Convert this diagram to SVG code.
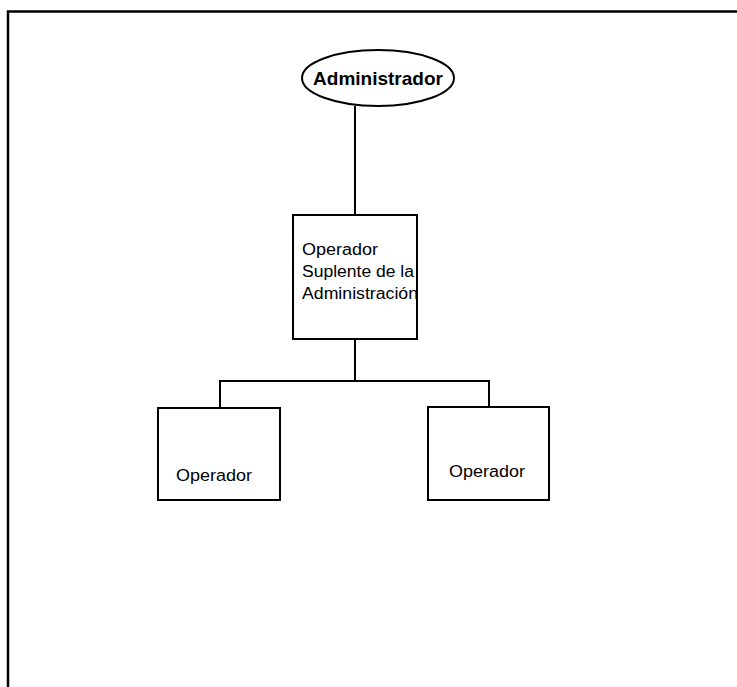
<svg xmlns="http://www.w3.org/2000/svg" width="737" height="687" viewBox="0 0 737 687">
  <style>
    .frame { fill: none; stroke: #000; stroke-width: 2.5; }
    .node { fill: #fff; stroke: #000; stroke-width: 2; }
    .link { fill: none; stroke: #000; stroke-width: 2; }
    .label { font-family: "Liberation Sans", Arial, sans-serif; font-size: 16px; fill: #000; }
    .title { font-family: "Liberation Sans", Arial, sans-serif; font-size: 19px; font-weight: bold; fill: #000; }
  </style>
  <rect width="737" height="687" fill="#fff"/>
  <!-- page frame: top and left rules only -->
  <path class="frame" d="M737 11.5 H8 V687"/>

  <g id="connectors">
    <path class="link" d="M355 106 V215"/>
    <path class="link" d="M355 339 V381"/>
    <path class="link" d="M220 408 V381 H489 V408"/>
  </g>

  <g id="administrador">
    <ellipse class="node" cx="378" cy="78" rx="76" ry="28"/>
    <text class="title" x="378" y="85" text-anchor="middle">Administrador</text>
  </g>

  <g id="operador-suplente">
    <rect class="node" x="293" y="215" width="124" height="124"/>
    <text class="label" x="302" y="255" textLength="76" lengthAdjust="spacingAndGlyphs">Operador</text>
    <text class="label" x="302" y="277" textLength="112" lengthAdjust="spacingAndGlyphs">Suplente de la</text>
    <text class="label" x="302" y="299" textLength="116" lengthAdjust="spacingAndGlyphs">Administración</text>
  </g>

  <g id="operador-1">
    <rect class="node" x="158" y="408" width="122" height="92"/>
    <text class="label" x="176" y="481" textLength="76" lengthAdjust="spacingAndGlyphs">Operador</text>
  </g>

  <g id="operador-2">
    <rect class="node" x="428" y="407" width="121" height="93"/>
    <text class="label" x="449" y="477" textLength="76" lengthAdjust="spacingAndGlyphs">Operador</text>
  </g>
</svg>
